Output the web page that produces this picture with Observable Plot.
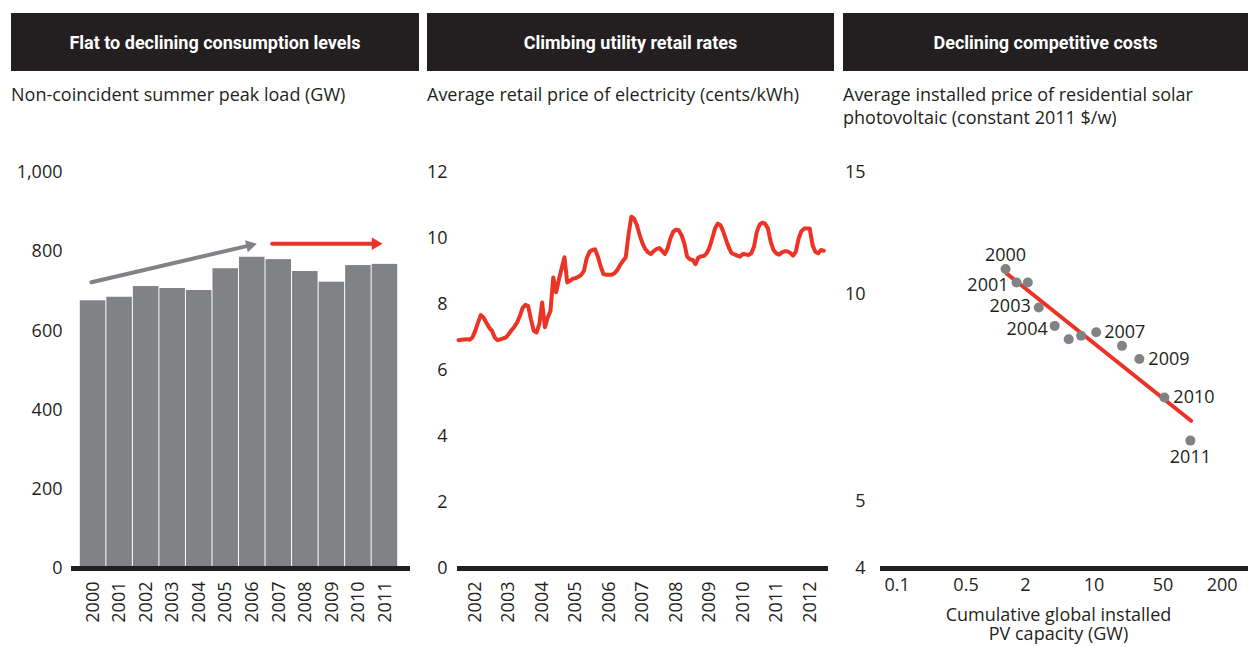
<!DOCTYPE html>
<html><head><meta charset="utf-8">
<script src="https://cdn.jsdelivr.net/npm/d3@7"></script>
<script src="https://cdn.jsdelivr.net/npm/@observablehq/plot@0.6"></script>
<style>
body{margin:0;background:#fff;width:1248px;height:647px;overflow:hidden;font-family:"Open Sans",sans-serif;color:#231f20;position:relative}
.hdr{position:absolute;top:13px;height:58px;background:#231f20;color:#fff;display:flex;align-items:center;justify-content:center;font-family:Roboto,sans-serif;font-weight:700;font-size:18px}
.sub{position:absolute;top:83px;font-size:18px;line-height:23px;white-space:nowrap}
.panel{position:absolute;top:140px}
.panel svg{overflow:visible}
</style></head><body>
<script>
// ---------- DATA ----------
const headers = ["Flat to declining consumption levels", "Climbing utility retail rates", "Declining competitive costs"];
const subtitles = ["Non-coincident summer peak load (GW)", "Average retail price of electricity (cents/kWh)", "Average installed price of residential solar\nphotovoltaic (constant 2011 $/w)"];

// Panel 1
const loadYears = [2000,2001,2002,2003,2004,2005,2006,2007,2008,2009,2010,2011];
const peakLoad  = [676, 685, 712, 707, 702, 757, 786, 780, 750, 723, 765, 768];
const loadTicks = [0,200,400,600,800,1000];
// trend arrows (year, GW)
const arrowFrom = [[1999.94, 723], [2006.75, 820]];
const arrowTo   = [[2005.91, 816], [2010.64, 820]];

// Panel 2: monthly, Jan 2002 - Dec 2012
const retailStartYear = 2002;
const retailPrice = [
 6.92,6.93,6.94,6.95,6.93,7.00,7.20,7.45,7.68,7.60,7.45,7.30,
 7.20,7.00,6.92,6.94,6.97,7.00,7.10,7.22,7.32,7.45,7.65,7.90,
 7.99,7.95,7.55,7.20,7.15,7.41,8.06,7.31,7.60,7.81,8.82,8.37,
 8.75,9.10,9.43,8.67,8.72,8.78,8.80,8.84,8.90,9.02,9.40,9.60,
 9.65,9.67,9.45,9.15,8.92,8.90,8.90,8.90,8.95,9.05,9.20,9.32,
 9.43,10.13,10.66,10.60,10.40,10.10,9.85,9.68,9.58,9.53,9.62,9.68,
 9.71,9.63,9.53,9.70,10.00,10.20,10.27,10.25,10.10,9.85,9.45,9.37,
 9.35,9.22,9.42,9.46,9.47,9.55,9.72,10.00,10.30,10.45,10.40,10.20,
 9.95,9.72,9.55,9.52,9.48,9.45,9.53,9.52,9.50,9.55,9.75,10.20,
 10.42,10.48,10.45,10.30,9.90,9.65,9.55,9.51,9.58,9.61,9.61,9.56,
 9.48,9.60,10.00,10.22,10.30,10.30,10.30,9.80,9.60,9.55,9.65,9.63
];
const retailTickYears = [2002,2003,2004,2005,2006,2007,2008,2009,2010,2011,2012];
const retailTicks = [0,2,4,6,8,10,12];

// Panel 3
const pvYears    = [2000, 2001, 2002, 2003, 2004, 2005, 2006, 2007, 2008, 2009, 2010, 2011];
const pvCapacity = [1.26, 1.63, 2.12, 2.74, 3.98, 5.52, 7.38, 10.5, 19.2, 28.8, 51.7, 95.0];
const pvPrice    = [10.87,10.39,10.39,9.56, 8.99, 8.60, 8.70, 8.80, 8.41, 8.05, 7.08, 6.13];
const pvFitX = [1.29, 96.6];
const pvFitY = [10.71, 6.55];
const pvXTicks = [0.1, 0.5, 2, 10, 50, 200];
const pvYTicks = [4, 5, 10, 15];
const pvXLabel = "Cumulative global installed\nPV capacity (GW)";
// label placement (style only): [textAnchor, dx, dy]
const pvLabelPlace = {2000:["middle",0,-14], 2001:["end",-8,3], 2003:["end",-8,-1], 2004:["end",-7,3],
                      2007:["start",8,0], 2009:["start",9,0], 2010:["start",9,0], 2011:["middle",0,17]};

// ---------- STYLE ----------
const GRAY = "#808285", RED = "#ec3326", INK = "#231f20";
const panelX = [0, 420, 840], panelW = [420, 420, 408];
const hdrX = [11, 427, 843], hdrW = [408, 407, 405];
const baseStyle = {fontFamily: "'Open Sans', sans-serif", fontSize: "18px", color: INK, background: "transparent", overflow: "visible"};

headers.forEach((h, i) => {
  const d = document.createElement("div");
  d.className = "hdr"; d.style.left = hdrX[i] + "px"; d.style.width = hdrW[i] + "px";
  d.textContent = h; document.body.appendChild(d);
  const s = document.createElement("div");
  s.className = "sub"; s.style.left = hdrX[i] + "px";
  s.innerHTML = subtitles[i].split("\n").join("<br>");
  document.body.appendChild(s);
});

function place(svg, i) {
  const w = document.createElement("div");
  w.className = "panel"; w.style.left = panelX[i] + "px";
  w.appendChild(svg); document.body.appendChild(w);
}

// Panel 1
const loadData = loadYears.map((y, i) => ({year: y, value: peakLoad[i]}));
const arrows = arrowFrom.map((f, i) => ({x1: f[0], y1: f[1], x2: arrowTo[i][0], y2: arrowTo[i][1], c: i === 0 ? GRAY : RED}));
const p1 = Plot.plot({
  width: panelW[0], height: 507, marginTop: 32, marginBottom: 79, marginLeft: 71, marginRight: 10,
  style: baseStyle,
  x: {type: "linear", domain: [1999.5, 2011.5], range: [79.3, 397.7]},
  y: {domain: [0, 1000]},
  marks: [
    Plot.rectY(loadData, {x1: d => d.year - 0.5, x2: d => d.year + 0.5, y: "value", fill: GRAY, insetLeft: 0.5, insetRight: 0.5}),
    Plot.ruleY([0], {stroke: INK, strokeWidth: 5}),
    Plot.link(arrows, {x1: "x1", y1: "y1", x2: "x2", y2: "y2", stroke: "c", strokeWidth: 4, strokeLinecap: "round"}),
    Plot.dot(arrows, {x: "x2", y: "y2", fill: "c", symbol: "triangle", r: 4.6, rotate: (d, i) => i === 0 ? 76.9 : 90}),
    Plot.axisY({ticks: loadTicks, tickFormat: d3.format(","), tickSize: 0, tickPadding: 9, label: null, fill: INK}),
    Plot.axisX({ticks: loadYears, tickFormat: d => String(d), tickRotate: -90, tickSize: 0, tickPadding: 13, label: null, fill: INK})
  ]
});
place(p1, 0);

// Panel 2
const retailData = retailPrice.map((v, i) => ({t: retailStartYear + i / 12, v}));
const p2 = Plot.plot({
  width: panelW[1], height: 507, marginTop: 32, marginBottom: 79, marginLeft: 37, marginRight: 12,
  style: baseStyle,
  x: {type: "linear", domain: [2002, 2013], range: [38, 406]},
  y: {domain: [0, 12]},
  marks: [
    Plot.ruleY([0], {stroke: INK, strokeWidth: 5}),
    Plot.lineY(retailData, {x: "t", y: "v", stroke: RED, strokeWidth: 4, strokeLinejoin: "round"}),
    Plot.axisY({ticks: retailTicks, tickSize: 0, tickPadding: 10, label: null, fill: INK}),
    Plot.axisX({ticks: retailTickYears.map(y => y + 0.5), tickFormat: d => String(Math.floor(d)), tickRotate: -90, tickSize: 0, tickPadding: 13, label: null, fill: INK})
  ]
});
place(p2, 1);

// Panel 3
const pvData = pvYears.map((y, i) => ({year: y, x: pvCapacity[i], y: pvPrice[i]}));
const fit = pvFitX.map((x, i) => ({x, y: pvFitY[i]}));
const labelMarks = pvData.filter(d => pvLabelPlace[d.year]).map(d => {
  const [anchor, dx, dy] = pvLabelPlace[d.year];
  return Plot.text([d], {x: "x", y: "y", text: v => String(v.year), textAnchor: anchor, dx, dy, fill: INK});
});
const p3 = Plot.plot({
  width: panelW[2], height: 507, marginTop: 32, marginBottom: 79, marginLeft: 40, marginRight: 0,
  style: baseStyle,
  x: {type: "log", domain: [0.1, 200], range: [56.7, 381.7], axis: null},
  y: {type: "log", domain: [4, 15], axis: null},
  marks: [
    Plot.ruleY([4], {stroke: INK, strokeWidth: 5}),
    Plot.line(fit, {x: "x", y: "y", stroke: RED, strokeWidth: 4}),
    Plot.dot(pvData, {x: "x", y: "y", r: 5, fill: GRAY}),
    ...labelMarks,
    Plot.text(pvYTicks, {y: d => d, frameAnchor: "left", dx: -15, textAnchor: "end", text: d => String(d), fill: INK}),
    Plot.text(pvXTicks, {x: d => d, frameAnchor: "bottom", dy: 22, text: d => String(d), fill: INK}),
    Plot.text([pvXLabel], {frameAnchor: "bottom", dx: -6, dy: 38, lineAnchor: "top", lineHeight: 1.1, fill: INK})
  ]
});
place(p3, 2);
</script>
</body></html>
